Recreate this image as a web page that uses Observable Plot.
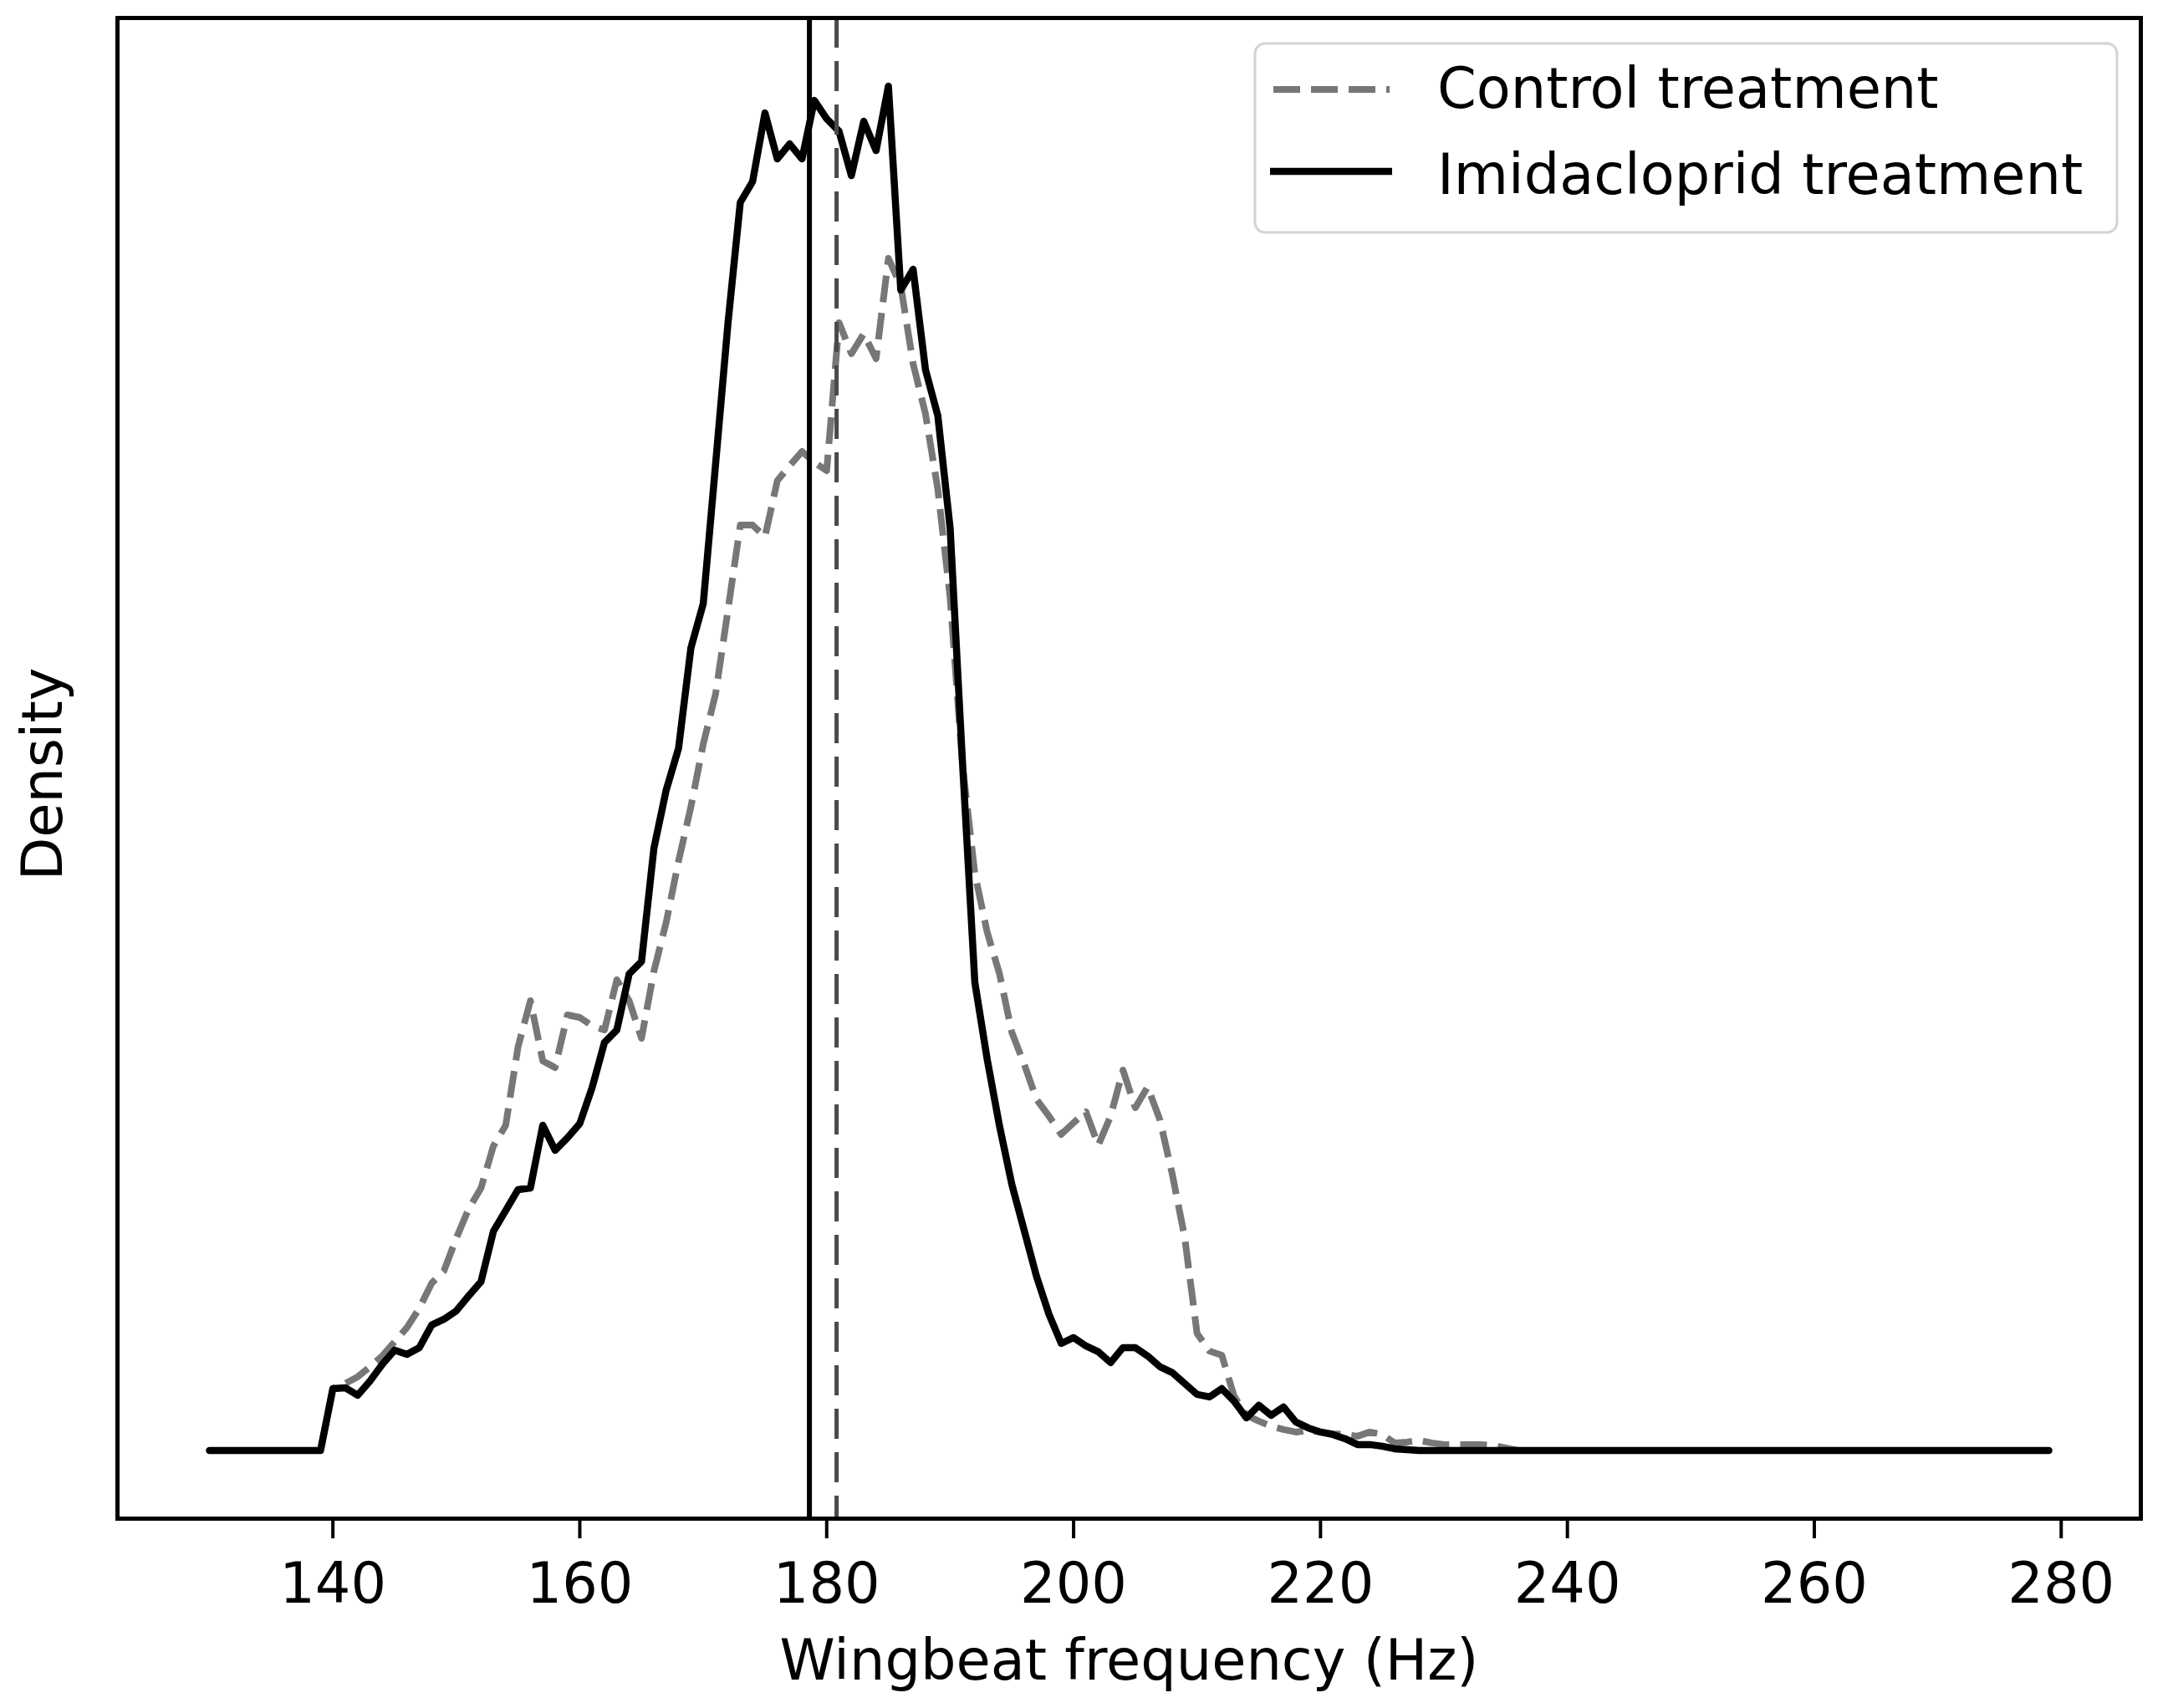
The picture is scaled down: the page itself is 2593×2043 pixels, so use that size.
<!DOCTYPE html>
<html>
<head>
<meta charset="utf-8">
<script src="https://cdn.jsdelivr.net/npm/d3@7"></script>
<script src="https://cdn.jsdelivr.net/npm/@observablehq/plot@0.6"></script>
<style>
  html, body { margin: 0; padding: 0; background: #fff; overflow: hidden; }
  #chart { position: relative; width: 2593px; height: 2043px; }
</style>
</head>
<body>
<div id="chart"></div>
<script>
// ---------- data ----------
// KDE evaluation grid, 1 Hz steps from 130 to 279 Hz
const frequencies = d3.range(130, 280);

// Control treatment density (dashed grey curve)
const controlDensity = [
  0, 0, 0, 0, 0, 0, 0, 0, 0, 0,
  0.00222, 0.00240, 0.00264, 0.00300, 0.00339, 0.00390, 0.00441, 0.00510, 0.00600, 0.00645,
  0.00762, 0.00867, 0.00942, 0.01092, 0.01167, 0.01449, 0.01614, 0.01398, 0.01374, 0.01563,
  0.01554, 0.01524, 0.01509, 0.01689, 0.01614, 0.01479, 0.01719, 0.01896, 0.02115, 0.02310,
  0.02535, 0.02715, 0.03015, 0.03321, 0.03321, 0.03279, 0.03480, 0.03534, 0.03585, 0.03546,
  0.03516, 0.04047, 0.03936, 0.04008, 0.03918, 0.04278, 0.04179, 0.03900, 0.03720, 0.03450,
  0.03060, 0.02460, 0.02070, 0.01860, 0.01710, 0.01500, 0.01386, 0.01260, 0.01200, 0.01134,
  0.01176, 0.01215, 0.01095, 0.01200, 0.01365, 0.01230, 0.01305, 0.01185, 0.00990, 0.00765,
  0.00420, 0.00357, 0.00342, 0.00195, 0.00126, 0.00105, 0.00087, 0.00075, 0.00066, 0.00072,
  0.00066, 0.00060, 0.00057, 0.00051, 0.00066, 0.00057, 0.00027, 0.00030, 0.00036, 0.00027,
  0.00021, 0.00021, 0.00021, 0.00021, 0.00018, 0.00009, 0, 0, 0, 0,
  0, 0, 0, 0, 0, 0, 0, 0, 0, 0,
  0, 0, 0, 0, 0, 0, 0, 0, 0, 0,
  0, 0, 0, 0, 0, 0, 0, 0, 0, 0,
  0, 0, 0, 0, 0, 0, 0, 0, 0, 0
];

// Imidacloprid treatment density (solid black curve)
const imidaclopridDensity = [
  0, 0, 0, 0, 0, 0, 0, 0, 0, 0,
  0.00222, 0.00225, 0.00198, 0.00249, 0.00309, 0.00360, 0.00345, 0.00369, 0.00450, 0.00471,
  0.00501, 0.00555, 0.00606, 0.00786, 0.00861, 0.00936, 0.00942, 0.01167, 0.01077, 0.01122,
  0.01173, 0.01302, 0.01464, 0.01509, 0.01710, 0.01755, 0.02160, 0.02370, 0.02520, 0.02880,
  0.03039, 0.03540, 0.04044, 0.04479, 0.04554, 0.04800, 0.04635, 0.04689, 0.04635, 0.04845,
  0.04779, 0.04734, 0.04575, 0.04770, 0.04665, 0.04896, 0.04164, 0.04239, 0.03879, 0.03714,
  0.03309, 0.02469, 0.01680, 0.01404, 0.01164, 0.00954, 0.00789, 0.00624, 0.00489, 0.00384,
  0.00405, 0.00375, 0.00354, 0.00315, 0.00369, 0.00369, 0.00339, 0.00300, 0.00279, 0.00240,
  0.00201, 0.00192, 0.00222, 0.00177, 0.00117, 0.00162, 0.00126, 0.00156, 0.00102, 0.00081,
  0.00066, 0.00057, 0.00042, 0.00021, 0.00021, 0.00015, 0.00006, 0.00003, 0, 0,
  0, 0, 0, 0, 0, 0, 0, 0, 0, 0,
  0, 0, 0, 0, 0, 0, 0, 0, 0, 0,
  0, 0, 0, 0, 0, 0, 0, 0, 0, 0,
  0, 0, 0, 0, 0, 0, 0, 0, 0, 0,
  0, 0, 0, 0, 0, 0, 0, 0, 0, 0
];

// Mean wingbeat frequencies (vertical reference lines)
const controlMean = 180.8;
const imidaclopridMean = 178.6;

// Axis ticks and text
const xTicks = [140, 160, 180, 200, 220, 240, 260, 280];
const seriesNames = ["Control treatment", "Imidacloprid treatment"];
const xLabel = "Wingbeat frequency (Hz)";
const yLabel = "Density";

// ---------- build tables ----------
const controlRows = frequencies.map((f, i) => ({f, d: controlDensity[i]}));
const imidaRows = frequencies.map((f, i) => ({f, d: imidaclopridDensity[i]}));

// matplotlib-like 5% auto margins
const xMin = d3.min(frequencies), xMax = d3.max(frequencies);
const xPad = (xMax - xMin) * 0.05;
const yMax = d3.max([...controlDensity, ...imidaclopridDensity]);
const yMin = 0;
const yPad = (yMax - yMin) * 0.05;

const W = 2593, H = 2043;
const FS = 67;
const FONT = "'DejaVu Sans', 'Liberation Sans', sans-serif";
const CONTROL_STYLE = {stroke: "#777777", width: 8, dash: "32,13"};
const IMIDA_STYLE = {stroke: "#000000", width: 8.5};

const chart = Plot.plot({
  width: W,
  height: H,
  marginLeft: 140,
  marginRight: 33,
  marginTop: 21,
  marginBottom: 227,
  style: {fontFamily: FONT, fontSize: FS + "px", color: "black", background: "white"},
  x: {domain: [xMin - xPad, xMax + xPad]},
  y: {domain: [yMin - yPad, yMax + yPad], axis: null},
  marks: [
    Plot.lineY(controlRows, {x: "f", y: "d", stroke: CONTROL_STYLE.stroke, strokeWidth: CONTROL_STYLE.width, strokeDasharray: CONTROL_STYLE.dash, strokeLinecap: "butt"}),
    Plot.lineY(imidaRows, {x: "f", y: "d", stroke: IMIDA_STYLE.stroke, strokeWidth: IMIDA_STYLE.width}),
    Plot.ruleX([imidaclopridMean], {stroke: "#000000", strokeWidth: 6}),
    Plot.ruleX([controlMean], {stroke: "#4a4a4a", strokeWidth: 5, strokeDasharray: "36,16"}),
    Plot.axisX({ticks: xTicks, tickSize: 24, tickPadding: 29, strokeWidth: 4, label: null, fontSize: FS, tickFormat: d => String(d)}),
    Plot.text([xLabel], {frameAnchor: "bottom", lineAnchor: "bottom", textAnchor: "middle", dy: 192, fontSize: FS, fill: "black"}),
    Plot.text([yLabel], {frameAnchor: "left", rotate: -90, textAnchor: "middle", lineAnchor: "bottom", dx: -67, dy: 7, fontSize: FS, fill: "black"}),
    Plot.frame({stroke: "black", strokeWidth: 5})
  ]
});

// ---------- legend (drawn inside the axes, top-right) ----------
const svg = d3.select(chart);
const lg = svg.append("g").attr("class", "legend")
  .attr("font-family", FONT).attr("font-size", FS).attr("text-anchor", "start");
const boxX = 1501, boxY = 52, boxW = 1031, boxH = 226;
lg.append("rect")
  .attr("x", boxX).attr("y", boxY).attr("width", boxW).attr("height", boxH)
  .attr("rx", 12).attr("ry", 12)
  .attr("fill", "white").attr("fill-opacity", 0.8)
  .attr("stroke", "#d4d4d4").attr("stroke-width", 3);
const handles = [
  {y: 107, stroke: CONTROL_STYLE.stroke, width: CONTROL_STYLE.width, dash: CONTROL_STYLE.dash, x1: 1523, x2: 1662, base: 129},
  {y: 205, stroke: IMIDA_STYLE.stroke, width: IMIDA_STYLE.width, dash: null, x1: 1519, x2: 1665, base: 232}
];
handles.forEach((h, i) => {
  const ln = lg.append("line")
    .attr("x1", h.x1).attr("x2", h.x2).attr("y1", h.y).attr("y2", h.y)
    .attr("stroke", h.stroke).attr("stroke-width", h.width);
  if (h.dash) ln.attr("stroke-dasharray", h.dash);
  lg.append("text").attr("x", 1719).attr("y", h.base)
    .attr("text-anchor", "start").attr("fill", "black").text(seriesNames[i]);
});

document.getElementById("chart").appendChild(chart);
</script>
</body>
</html>
